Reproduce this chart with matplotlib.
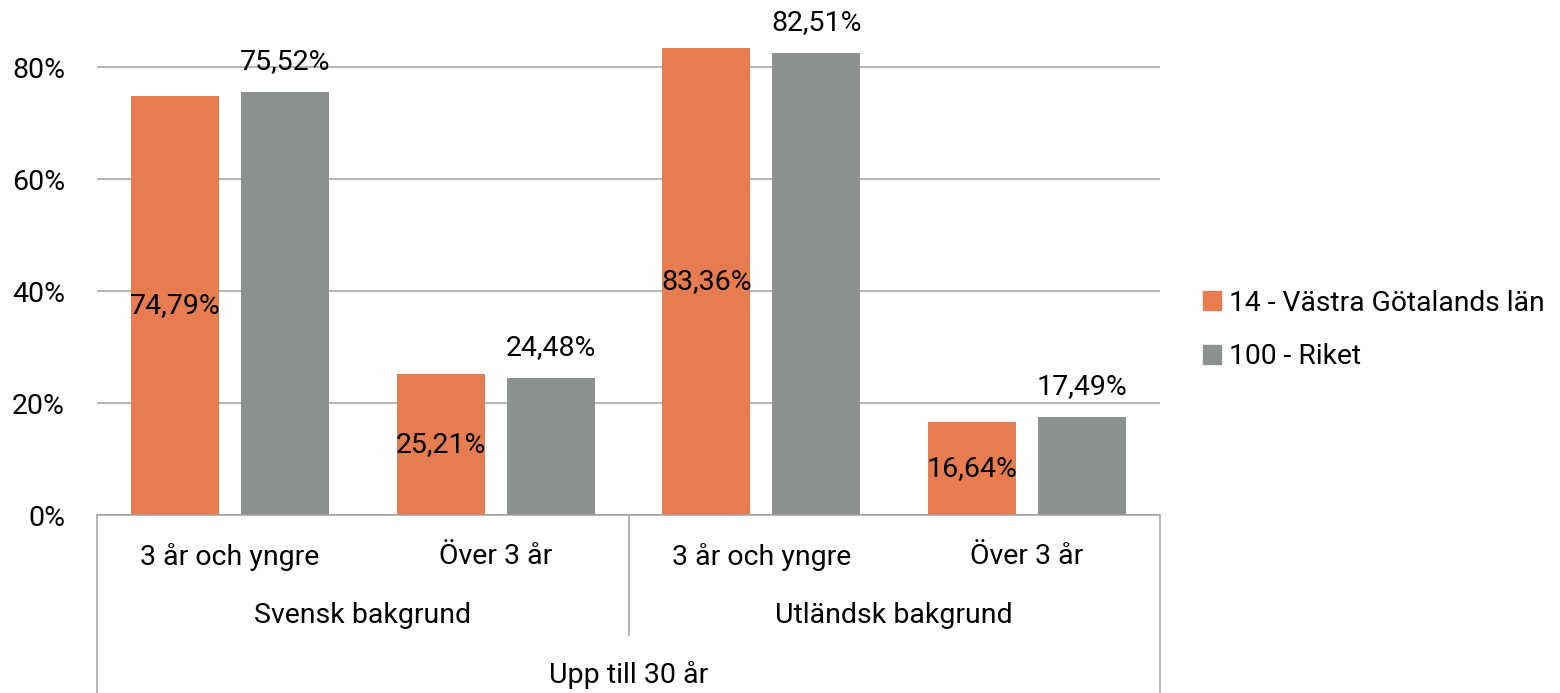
import matplotlib.pyplot as plt
from matplotlib.patches import Patch
import numpy as np

plt.rcParams['font.family'] = ['Roboto', 'DejaVu Sans']

# data
sub_labels = ['3 år och yngre', 'Över 3 år', '3 år och yngre', 'Över 3 år']
group_labels = ['Svensk bakgrund', 'Utländsk bakgrund']
top_label = 'Upp till 30 år'
series_names = ['14 - Västra Götalands län', '100 - Riket']
vg = [0.7479, 0.2521, 0.8336, 0.1664]
riket = [0.7552, 0.2448, 0.8251, 0.1749]

c_orange = '#E67C4F'
c_gray = '#8C918F'
c_line = '#A0A0A0'
fs = 20.5


def pct(v):
    return f'{v * 100:.2f}'.replace('.', ',') + '%'


fig = plt.figure(figsize=(15.6, 6.93), dpi=100)
ax = fig.add_axes([97 / 1560, 1 - 515 / 693, (1160 - 97) / 1560, 504 / 693])

x = np.arange(len(sub_labels))
w = 0.331
off = 0.207
b1 = ax.bar(x - off, vg, w, color=c_orange, zorder=2)
b2 = ax.bar(x + off, riket, w, color=c_gray, zorder=2)

for rect, v in zip(b1, vg):
    ax.annotate(pct(v), (rect.get_x() + rect.get_width() / 2, v / 2),
                ha='center', va='center', fontsize=fs, zorder=3)
for rect, v in zip(b2, riket):
    ax.annotate(pct(v), (rect.get_x() + rect.get_width() / 2, v),
                xytext=(0, 22), textcoords='offset points',
                ha='center', va='center', fontsize=fs, zorder=3)

ax.set_xlim(-0.5, 3.5)
ax.set_ylim(0, 0.9)
ax.set_yticks([0, 0.2, 0.4, 0.6, 0.8])
ax.set_yticklabels(['0%', '20%', '40%', '60%', '80%'], fontsize=fs)
ax.tick_params(axis='y', length=0, pad=23)
ax.set_xticks([])
ax.yaxis.grid(True, color=c_line, lw=1.1, zorder=0)
for s in ['top', 'right', 'left']:
    ax.spines[s].set_visible(False)
ax.spines['bottom'].set_color(c_line)
ax.spines['bottom'].set_linewidth(1.1)

# multi-level category axis
tr = ax.get_xaxis_transform()
for xi, lab in zip(x, sub_labels):
    ax.text(xi, -0.083, lab, transform=tr, ha='center', va='center', fontsize=fs)
for gi, lab in enumerate(group_labels):
    ax.text(gi * 2 + 0.5, -0.2, lab, transform=tr, ha='center', va='center', fontsize=fs)
ax.text(1.5, -0.317, top_label, transform=tr, ha='center', va='center', fontsize=fs)
ax.plot([-0.5, -0.5], [0, -0.36], transform=tr, color=c_line, lw=1.1, clip_on=False)
ax.plot([3.5, 3.5], [0, -0.36], transform=tr, color=c_line, lw=1.1, clip_on=False)
ax.plot([1.5, 1.5], [0, -0.238], transform=tr, color=c_line, lw=1.1, clip_on=False)

handles = [Patch(color=c_orange), Patch(color=c_gray)]
fig.legend(handles, series_names, loc='center left', bbox_to_anchor=(1203 / 1560, 1 - 330 / 693),
           frameon=False, fontsize=20.3, handlelength=0.63, handleheight=0.63,
           handletextpad=0.3, labelspacing=0.95, borderpad=0, borderaxespad=0)

fig.savefig('out.png', dpi=100)
